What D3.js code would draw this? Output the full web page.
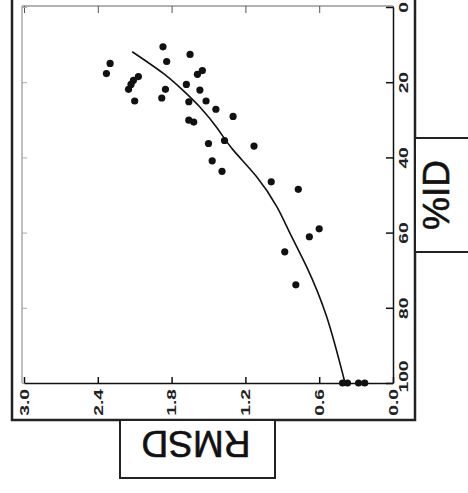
<!DOCTYPE html>
<html>
<head>
<meta charset="utf-8">
<script src="https://cdn.jsdelivr.net/npm/d3@7"></script>
<style>
  body { margin: 0; background: #fff; }
  svg { display: block; font-family: "Liberation Sans", Arial, sans-serif; }
</style>
</head>
<body>
<svg id="chart" width="468" height="493"></svg>
<script>
// scanned RMSD vs %ID plot, drawn turned on its side like the picture
var rmsdTicks = [3.0, 2.4, 1.8, 1.2, 0.6, 0.0];
var idTicks = [0, 20, 40, 60, 80, 100];

// points: [RMSD, %ID]
var pointRmsd = [1.87, 1.84, 1.65, 2.30, 2.33, 2.07, 2.11, 2.13, 2.15, 2.10,
                 1.85, 1.88, 1.55, 1.59, 1.68, 1.57, 1.66, 1.52, 1.44, 1.30,
                 1.66, 1.62, 1.50, 1.37, 1.13, 1.47, 1.39, 0.99, 0.77, 0.60,
                 0.68, 0.88, 0.79, 0.41, 0.37, 0.28, 0.23];
var pointId = [10.6, 14.5, 12.6, 15.0, 17.7, 18.5, 19.5, 20.6, 21.9, 25.0,
               21.9, 24.2, 16.9, 17.9, 20.6, 22.1, 25.2, 25.0, 27.2, 29.1,
               30.1, 30.6, 36.3, 35.5, 37.0, 40.9, 43.7, 46.5, 48.5, 59.0,
               61.1, 65.1, 73.9, 100, 100, 100, 100];

// fitted curve
var curveRmsd = [2.12, 1.87, 1.71, 1.57, 1.43, 1.30, 1.11, 0.945, 0.837, 0.702, 0.539, 0.39];
var curveId = [11.9, 17.6, 22.1, 26.6, 32.2, 38.0, 45.1, 53.1, 60.2, 69.1, 82.4, 100];

var svg = d3.select("#chart");

var x = d3.scaleLinear().domain([3.0, 0.0]).range([24, 393]);
var y = d3.scaleLinear().domain([0, 100]).range([7, 383]);

// outer frame and label boxes
svg.append("rect")
    .attr("x", 12).attr("y", -10)
    .attr("width", 403).attr("height", 430)
    .attr("fill", "none").attr("stroke", "#222").attr("stroke-width", 2.5);

svg.append("rect")
    .attr("x", 415).attr("y", 138)
    .attr("width", 60).attr("height", 114)
    .attr("fill", "#fff").attr("stroke", "#222").attr("stroke-width", 2);

svg.append("rect")
    .attr("x", 120).attr("y", 420)
    .attr("width", 155).attr("height", 58)
    .attr("fill", "#fff").attr("stroke", "#222").attr("stroke-width", 2);

svg.append("text")
    .attr("transform", "translate(436,195) rotate(-90)")
    .attr("text-anchor", "middle")
    .attr("dy", "0.35em")
    .attr("font-size", 37)
    .attr("fill", "#111").attr("stroke", "#111").attr("stroke-width", 0.6)
    .text("%ID");

svg.append("text")
    .attr("transform", "translate(196,444) rotate(180)")
    .attr("text-anchor", "middle")
    .attr("dy", "0.35em")
    .attr("font-size", 37)
    .attr("fill", "#111").attr("stroke", "#111").attr("stroke-width", 0.6)
    .text("RMSD");

// faint mirror ticks on top and left
var topAxis = svg.append("g")
    .attr("transform", "translate(0,6)")
    .call(d3.axisTop(x).tickValues(rmsdTicks).tickSizeInner(-7).tickSizeOuter(0).tickFormat(""));
topAxis.select(".domain").attr("stroke", "#999").attr("stroke-width", 1.5)
    .attr("d", "M22,0H393");
topAxis.selectAll(".tick line").attr("stroke", "#555");

var leftAxis = svg.append("g")
    .attr("transform", "translate(22,0)")
    .call(d3.axisLeft(y).tickValues(idTicks).tickSizeInner(-5).tickSizeOuter(0).tickFormat(""));
leftAxis.select(".domain").attr("stroke", "#aaa").attr("stroke-width", 1.5)
    .attr("d", "M0,6V383");
leftAxis.selectAll(".tick line").attr("stroke", "#aaa");

// bottom axis: RMSD
var bottomAxis = svg.append("g")
    .attr("transform", "translate(0,383)")
    .call(d3.axisBottom(x).tickValues(rmsdTicks).tickSizeInner(-6).tickSizeOuter(0)
        .tickFormat(d3.format(".1f")));
bottomAxis.select(".domain").attr("stroke", "#111").attr("stroke-width", 1.5);
bottomAxis.selectAll(".tick line").attr("stroke", "#111").attr("stroke-width", 1.5);
bottomAxis.selectAll(".tick text")
    .attr("y", null).attr("dy", "0.35em")
    .attr("transform", "translate(0,6) rotate(-90) scale(1.6,1)")
    .attr("text-anchor", "end")
    .attr("font-size", 12).attr("font-weight", "bold")
    .attr("fill", "#222");

// right axis: %ID
var rightAxis = svg.append("g")
    .attr("transform", "translate(393,0)")
    .call(d3.axisRight(y).tickValues(idTicks).tickSizeInner(-7).tickSizeOuter(0));
rightAxis.select(".domain").attr("stroke", "#111").attr("stroke-width", 1.5);
rightAxis.selectAll(".tick line").attr("stroke", "#111").attr("stroke-width", 1.5);
rightAxis.selectAll(".tick text")
    .attr("x", null).attr("dy", "0.35em")
    .attr("transform", function (d) {
        return "translate(11," + (d === 100 ? -7 : 0) + ") rotate(-90) scale(1.6,1)";
    })
    .attr("text-anchor", "middle")
    .attr("font-size", 12).attr("font-weight", "bold")
    .attr("fill", "#222");

// curve
var curvePts = curveRmsd.map(function (r, i) { return [r, curveId[i]]; });
svg.append("path")
    .datum(curvePts)
    .attr("fill", "none")
    .attr("stroke", "#111")
    .attr("stroke-width", 1.6)
    .attr("d", d3.line()
        .x(function (d) { return x(d[0]); })
        .y(function (d) { return y(d[1]); })
        .curve(d3.curveNatural));

// points
svg.append("g").selectAll("circle")
    .data(pointRmsd.map(function (r, i) { return [r, pointId[i]]; }))
    .join("circle")
    .attr("cx", function (d) { return x(d[0]); })
    .attr("cy", function (d) { return y(d[1]); })
    .attr("r", 3.6)
    .attr("fill", "#111");
</script>
</body>
</html>
